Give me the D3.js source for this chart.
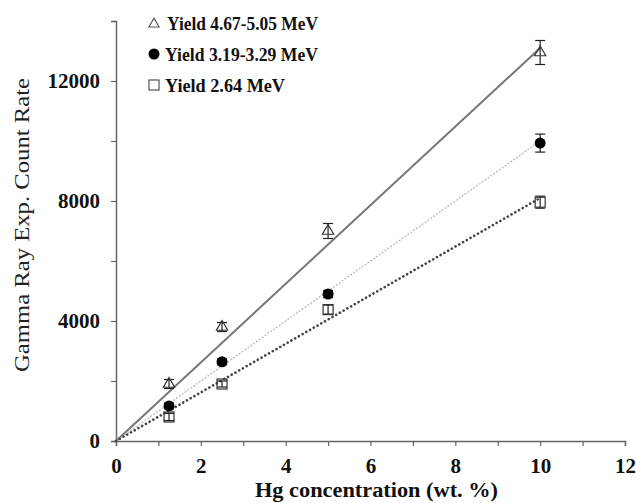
<!DOCTYPE html>
<html><head><meta charset="utf-8">
<script src="https://cdn.jsdelivr.net/npm/d3@7"></script>
<style>body{margin:0;background:#fff}</style>
</head><body>
<svg id="c" width="636" height="503"></svg>
<script>
const xVals = [1.25, 2.5, 5, 10];
const triVals = [1900, 3800, 7000, 12950];
const triErr = [150, 150, 250, 400];
const circVals = [1170, 2640, 4900, 9930];
const circErr = [100, 100, 120, 300];
const sqVals = [800, 1900, 4380, 7960];
const sqErr = [120, 100, 150, 200];
const fitEnds = [13100, 10000, 8100];
const xTicks = [0, 2, 4, 6, 8, 10, 12];
const yTicks = [0, 4000, 8000, 12000];
const legendLabels = ["Yield 4.67-5.05 MeV", "Yield 3.19-3.29 MeV", "Yield 2.64 MeV"];

const svg = d3.select("#c");
const x = d3.scaleLinear().domain([0, 12]).range([116, 625]);
const y = d3.scaleLinear().domain([0, 14000]).range([441, 21]);
const font = "'Liberation Serif', 'DejaVu Serif', serif";
const axisCol = "#666";

// axes
const gx = svg.append("g").attr("transform", `translate(0,${y(0)})`)
  .call(d3.axisBottom(x).tickValues(d3.range(0, 12.01, 1)).tickSize(5).tickFormat(d => xTicks.includes(d) ? d : ""));
gx.select(".domain").attr("stroke", axisCol).attr("stroke-width", 1.5);
gx.selectAll(".tick line").attr("stroke", axisCol).attr("stroke-width", 1.2);
gx.selectAll("text").attr("font-family", font).attr("font-weight", "bold").attr("font-size", 21).attr("fill", "#111")
  .attr("y", 32).attr("dy", "0");

const gy = svg.append("g").attr("transform", `translate(${x(0)},0)`)
  .call(d3.axisLeft(y).tickValues(d3.range(0, 14001, 2000)).tickSize(5).tickFormat(d => yTicks.includes(d) ? d : ""));
gy.select(".domain").attr("stroke", axisCol).attr("stroke-width", 1.5);
gy.selectAll(".tick line").attr("stroke", axisCol).attr("stroke-width", 1.2);
gy.selectAll("text").attr("font-family", font).attr("font-weight", "bold").attr("font-size", 21).attr("fill", "#111")
  .attr("x", -16);

// axis titles
svg.append("text").attr("x", 255).attr("y", 497).attr("font-family", font).attr("font-weight", "bold")
  .attr("font-size", 20).attr("fill", "#111").attr("textLength", 243).attr("lengthAdjust", "spacingAndGlyphs")
  .text("Hg concentration (wt. %)");
svg.append("text").attr("transform", `translate(29,225) rotate(-90)`).attr("text-anchor", "middle")
  .attr("font-family", font).attr("font-size", 21).attr("fill", "#222")
  .attr("textLength", 294).attr("lengthAdjust", "spacingAndGlyphs").text("Gamma Ray Exp. Count Rate");

// fit lines
const lineStyles = [
  {stroke: "#777", width: 2, dash: null},
  {stroke: "#bbb", width: 1.3, dash: "2,1.5"},
  {stroke: "#444", width: 2.6, dash: "0.1,4.2", cap: "round"}
];
fitEnds.forEach((e, i) => {
  const s = lineStyles[i];
  const l = svg.append("line").attr("x1", x(0)).attr("y1", y(0)).attr("x2", x(10)).attr("y2", y(e))
    .attr("stroke", s.stroke).attr("stroke-width", s.width);
  if (s.dash) l.attr("stroke-dasharray", s.dash);
  if (s.cap) l.attr("stroke-linecap", s.cap);
});

// error bars
function errBars(vals, errs) {
  vals.forEach((v, i) => {
    const cx = x(xVals[i]);
    const g = svg.append("g").attr("stroke", "#222").attr("stroke-width", 1.2);
    g.append("line").attr("x1", cx).attr("x2", cx).attr("y1", y(v - errs[i])).attr("y2", y(v + errs[i]));
    [v - errs[i], v + errs[i]].forEach(t => g.append("line").attr("x1", cx - 5).attr("x2", cx + 5).attr("y1", y(t)).attr("y2", y(t)));
  });
}
errBars(triVals, triErr);
errBars(circVals, circErr);
errBars(sqVals, sqErr);

// markers
const tri = d3.symbol().type(d3.symbolTriangle).size(55);
triVals.forEach((v, i) => svg.append("path").attr("d", tri()).attr("transform", `translate(${x(xVals[i])},${y(v)})`)
  .attr("fill", "none").attr("stroke", "#333").attr("stroke-width", 1.2));
circVals.forEach((v, i) => svg.append("circle").attr("cx", x(xVals[i])).attr("cy", y(v)).attr("r", 5.5).attr("fill", "#000"));
sqVals.forEach((v, i) => svg.append("rect").attr("x", x(xVals[i]) - 5).attr("y", y(v) - 5).attr("width", 10).attr("height", 10)
  .attr("fill", "none").attr("stroke", "#333").attr("stroke-width", 1.2));

// legend
const ly = [23, 54, 85];
svg.append("path").attr("d", d3.symbol().type(d3.symbolTriangle).size(45)()).attr("transform", `translate(154,${ly[0] + 1})`)
  .attr("fill", "none").attr("stroke", "#555").attr("stroke-width", 1.1);
svg.append("circle").attr("cx", 154).attr("cy", ly[1]).attr("r", 5.5).attr("fill", "#000");
svg.append("rect").attr("x", 149).attr("y", ly[2] - 5).attr("width", 10).attr("height", 10).attr("fill", "none").attr("stroke", "#444").attr("stroke-width", 1.1);
const lx = [167, 165, 165];
const lw = [151, 153, 120];
legendLabels.forEach((t, i) => svg.append("text").attr("x", lx[i]).attr("y", ly[i] + 6.5).attr("font-family", font)
  .attr("font-weight", "bold").attr("font-size", 19).attr("fill", "#111")
  .attr("textLength", lw[i]).attr("lengthAdjust", "spacingAndGlyphs").text(t));
</script>
</body></html>
